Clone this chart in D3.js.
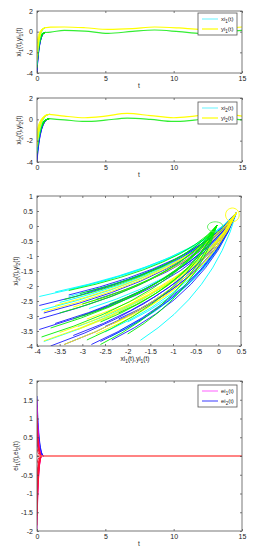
<!DOCTYPE html>
<html>
<head>
<meta charset="utf-8">
<script src="https://cdn.jsdelivr.net/npm/d3@7"></script>
<style>
  body { margin: 0; background: #fff; }
  text { font-family: "Liberation Sans", Arial, sans-serif; fill: #222; }
</style>
</head>
<body>
<div id="chart"></div>
<script>
// ---- data ----
const timeTicks = [0, 5, 10, 15];
const stateTicks = [-4, -2, 0, 2];

// panel 1: steady curves after the transient
const steadyT1 = [0.6, 1, 2, 3.5, 5.2, 7, 8.6, 10.4, 12, 13.5, 15];
const green1 = [-0.08, -0.04, 0.13, 0.05, -0.17, 0.03, 0.16, 0, -0.17, 0, 0.13];
const yellow1 = [0.38, 0.43, 0.45, 0.38, 0.22, 0.3, 0.45, 0.36, 0.22, 0.3, 0.45];
// panel 1: starting values of the transients at t = 0
const blueStart1 = [-4, -3.9, -3.7, -3.4];
const greenStart1 = [-3.5, -3.0, -2.6, -2.2, -1.8, -1.4];
const cyanStart1 = [-3.2, -2.5, -1.8];
const yellowStart1 = [-2.8, -2.2, -1.6, -1.0];

// panel 2
const steadyT2 = [0.9, 2, 3.5, 5, 6.6, 8.3, 10, 11.5, 13.2, 15];
const green2 = [0.06, -0.05, -0.2, -0.08, 0.12, 0, -0.2, -0.08, 0.12, -0.05];
const yellow2 = [0.47, 0.3, 0.15, 0.3, 0.55, 0.35, 0.15, 0.3, 0.55, 0.3];
const blueStart2 = [-4, -3.8, -3.5, -3.1];
const greenStart2 = [-3.2, -2.8, -2.4, -2.0, -1.7];
const cyanStart2 = [-3.0, -2.3, -1.6];
const yellowStart2 = [-2.6, -2.0, -1.5, -1.1];

// panel 3: phase plane, starting points [x, y]
const phaseXTicks = [-4, -3.5, -3, -2.5, -2, -1.5, -1, -0.5, 0, 0.5];
const phaseYTicks = [-4, -3.5, -3, -2.5, -2, -1.5, -1, -0.5, 0, 0.5, 1];
const cyanPhase = [[-3.95, -2.35], [-3.6, -2.2], [-3.25, -2.1], [-3.5, -2.55], [-3.85, -3.85],
  [-2.5, -3.53], [-2.39, -3.7], [-2.17, -3.48], [-1.72, -3.81], [-3.1, -3.35], [-2.85, -2.75],
  [-3.9, -2.8], [-3.3, -2.35], [-2.0, -3.2]];
const bluePhase = [[-3.95, -2.65], [-3.95, -3.1], [-3.95, -3.45], [-3.7, -4.0], [-3.4, -3.95],
  [-2.8, -3.95], [-2.6, -3.85], [-2.35, -3.8], [-3.3, -2.3], [-3.0, -3.0], [-2.7, -2.45],
  [-3.6, -3.25], [-2.2, -3.1], [-3.2, -3.65], [-3.85, -2.9], [-2.9, -2.2], [-2.5, -3.35]];
const greenPhase = [[-3.3, -2.15], [-3.9, -3.7], [-3.5, -2.9], [-3.0, -2.6],
  [-2.6, -3.2], [-2.9, -3.8], [-3.2, -3.1], [-2.4, -2.6], [-3.7, -3.4], [-2.0, -3.6],
  [-2.6, -3.95], [-3.05, -2.25], [-3.4, -2.45], [-2.2, -2.9]];
const yellowPhase = [[-3.85, -2.85], [-3.85, -3.83], [-3.5, -3.55], [-3.2, -2.7], [-2.9, -3.1],
  [-3.4, -3.95], [-2.7, -3.6], [-2.5, -2.95], [-3.6, -2.65], [-3.1, -3.45], [-2.3, -3.25]];
const upperEnd = [0.4, 0.45];
const lowerEnd = [-0.03, 0.02];
const greenLoop = [[0.1, -0.03], [0.06, 0.09], [-0.07, 0.14], [-0.19, 0.09], [-0.24, -0.03],
  [-0.19, -0.15], [-0.07, -0.2], [0.06, -0.15]];
const yellowLoop = [[0.46, 0.37], [0.42, 0.53], [0.31, 0.6], [0.2, 0.53], [0.16, 0.37],
  [0.2, 0.21], [0.31, 0.14], [0.42, 0.21]];

// panel 4: synchronisation errors at t = 0
const errTicks = [-2, -1.5, -1, -0.5, 0, 0.5, 1, 1.5, 2];
const e1Start = [1.5, 1.3, -1.95, -1.7, -1.45];
const eRedStart = [1.1, 0.8, 0.5, 0.2, -0.2, -0.5, -0.8, -1.1, -1.3, -1.6, 0.95, -0.95, -1.85];
const e2Start = [1.6, 1.35, 1.1, 0.85, 0.6, 0.35];

const C = { blue: '#1a1aff', cyan: '#00ffff', green: '#00ee00', yellow: '#ffff00',
            magenta: '#ff00ff', red: '#ff1030', zero: '#ff5a5a' };

const svg = d3.select('#chart').append('svg')
    .attr('width', 256).attr('height', 550);
svg.append('rect').attr('width', 256).attr('height', 550).attr('fill', '#fff');

let clipId = 0;

function panel(cfg) {
    const x = d3.scaleLinear().domain(cfg.xDomain).range([cfg.left, cfg.right]);
    const y = d3.scaleLinear().domain(cfg.yDomain).range([cfg.bottom, cfg.top]);
    const id = 'clip' + (clipId++);
    svg.append('clipPath').attr('id', id).append('rect')
        .attr('x', cfg.left).attr('y', cfg.top)
        .attr('width', cfg.right - cfg.left).attr('height', cfg.bottom - cfg.top);
    const plot = svg.append('g').attr('clip-path', `url(#${id})`);

    const fmt = d => String(d);
    const axes = svg.append('g').attr('class', 'axes');
    axes.append('g').attr('transform', `translate(0,${cfg.bottom})`)
        .call(d3.axisBottom(x).tickValues(cfg.xTicks).tickSizeInner(-2).tickSizeOuter(0).tickPadding(3).tickFormat(fmt));
    axes.append('g').attr('transform', `translate(${cfg.left},0)`)
        .call(d3.axisLeft(y).tickValues(cfg.yTicks).tickSizeInner(-2).tickSizeOuter(0).tickPadding(4).tickFormat(fmt));
    axes.append('g').attr('transform', `translate(0,${cfg.top})`)
        .call(d3.axisTop(x).tickValues(cfg.xTicks).tickSizeInner(-2).tickSizeOuter(0).tickFormat(''));
    axes.append('g').attr('transform', `translate(${cfg.right},0)`)
        .call(d3.axisRight(y).tickValues(cfg.yTicks).tickSizeInner(-2).tickSizeOuter(0).tickFormat(''));
    axes.selectAll('.domain').remove();
    axes.selectAll('.tick line').attr('stroke', '#444').attr('stroke-width', 0.7);
    axes.selectAll('.tick text').attr('font-size', 7).style('font-family', '"Liberation Sans", Arial, sans-serif').attr('fill', '#222');
    axes.append('rect')
        .attr('x', cfg.left).attr('y', cfg.top)
        .attr('width', cfg.right - cfg.left).attr('height', cfg.bottom - cfg.top)
        .attr('fill', 'none').attr('stroke', '#555').attr('stroke-width', 0.8);

    return { x, y, plot, axes };
}

function subText(sel, parts, size) {
    const t = sel.attr('font-size', size);
    parts.forEach(p => {
        if (p.sub) t.append('tspan').attr('font-size', size * 0.75).attr('dy', 1.5).text(p.s);
        else t.append('tspan').attr('dy', p.after ? -1.5 : 0).text(p.s);
    });
    return t;
}

// parts helper: "xi", sub "1", "(t),yi", sub "1", "(t)"
function label(a, n, b) {
    const parts = [{ s: a }, { s: n, sub: true }, { s: '(t)', after: true }];
    if (b) parts.push({ s: ',' + b }, { s: n, sub: true }, { s: '(t)', after: true });
    return parts;
}

function bend(x, y, p0, c, p1) {
    const p = d3.path();
    p.moveTo(x(p0[0]), y(p0[1]));
    p.quadraticCurveTo(x(c[0]), y(c[1]), x(p1[0]), y(p1[1]));
    return p.toString();
}

function transients(pn, starts, end, color, width) {
    pn.plot.append('g').selectAll('path').data(starts).enter().append('path')
        .attr('d', y0 => bend(pn.x, pn.y, [0, y0], [end[0] / 4, end[1]], end))
        .attr('fill', 'none').attr('stroke', color).attr('stroke-width', width || 1);
}

function steady(pn, ts, vals, color) {
    const line = d3.line().x(d => pn.x(d[0])).y(d => pn.y(d[1])).curve(d3.curveMonotoneX);
    pn.plot.append('path').datum(ts.map((t, i) => [t, vals[i]]))
        .attr('d', line).attr('fill', 'none').attr('stroke', color).attr('stroke-width', 1.2);
}

function legend(top, entries) {
    const g = svg.append('g');
    g.append('rect').attr('x', 198).attr('y', top).attr('width', 39).attr('height', 22)
        .attr('fill', '#fff').attr('stroke', '#555').attr('stroke-width', 0.8);
    entries.forEach((e, i) => {
        const ly = top + 6 + i * 10;
        g.append('line').attr('x1', 202).attr('x2', 218).attr('y1', ly).attr('y2', ly)
            .attr('stroke', e.color).attr('stroke-width', 1.2);
        subText(g.append('text').attr('x', 221).attr('y', ly + 2), label(e.a, e.n), 6);
    });
}

function ylabel(x, cy, parts) {
    subText(svg.append('text').attr('transform', `translate(${x},${cy}) rotate(-90)`)
        .attr('text-anchor', 'middle'), parts, 6.5);
}

function xlabel(cx, yPos, parts) {
    subText(svg.append('text').attr('x', cx).attr('y', yPos).attr('text-anchor', 'middle'), parts, 6.5);
}

function timePanel(top, bottom, steadyT, green, yellow, starts, n) {
    const pn = panel({ left: 37, right: 242, top, bottom, xDomain: [0, 15], yDomain: [-4, 2],
                       xTicks: timeTicks, yTicks: stateTicks });
    const gEnd = [steadyT[0], green[0]];
    const yEnd = [steadyT[0], yellow[0]];
    transients(pn, starts.blue, gEnd, C.blue);
    transients(pn, starts.green, gEnd, C.green);
    transients(pn, starts.cyan, yEnd, C.cyan);
    transients(pn, starts.yellow, yEnd, C.yellow);
    steady(pn, steadyT, green, '#33ee33');
    steady(pn, steadyT, yellow, C.yellow);
    xlabel(139, bottom + 15, [{ s: 't' }]);
    ylabel(21, (top + bottom) / 2, label('xi', n, 'yi'));
    return pn;
}

// panel 1
timePanel(11, 73, steadyT1, green1, yellow1,
    { blue: blueStart1, green: greenStart1, cyan: cyanStart1, yellow: yellowStart1 }, '1');
legend(13, [{ color: '#7ff5ff', a: 'xi', n: '1' }, { color: C.yellow, a: 'yi', n: '1' }]);

// panel 2
timePanel(98, 162, steadyT2, green2, yellow2,
    { blue: blueStart2, green: greenStart2, cyan: cyanStart2, yellow: yellowStart2 }, '2');
legend(102, [{ color: '#7ff5ff', a: 'xi', n: '2' }, { color: C.yellow, a: 'yi', n: '2' }]);

// panel 3: phase plane
const p3 = panel({ left: 37, right: 241, top: 196, bottom: 346, xDomain: [-4, 0.5], yDomain: [-4, 1],
                   xTicks: phaseXTicks, yTicks: phaseYTicks });
function phaseLines(starts, end, color) {
    // control point placed about 3/4 of the way along x and 3/8 along y
    p3.plot.append('g').selectAll('path').data(starts).enter().append('path')
        .attr('d', s => bend(p3.x, p3.y, s,
            [s[0] + 0.77 * (end[0] - s[0]), s[1] + 0.375 * (end[1] - s[1])], end))
        .attr('fill', 'none').attr('stroke', color).attr('stroke-width', 0.9);
}
phaseLines(cyanPhase, upperEnd, C.cyan);
phaseLines(bluePhase, upperEnd, C.blue);
phaseLines(yellowPhase, upperEnd, C.yellow);
phaseLines(greenPhase, lowerEnd, C.green);
const loopLine = d3.line().x(d => p3.x(d[0])).y(d => p3.y(d[1])).curve(d3.curveCardinalClosed);
p3.plot.append('path').datum(greenLoop).attr('d', loopLine)
    .attr('fill', 'none').attr('stroke', '#55ee55').attr('stroke-width', 0.9);
p3.plot.append('path').datum(yellowLoop).attr('d', loopLine)
    .attr('fill', 'none').attr('stroke', C.yellow).attr('stroke-width', 0.9);
xlabel(135, 361, label('xi', '1', 'yi'));
ylabel(18, 271, label('xi', '2', 'yi'));

// panel 4: errors
const p4 = panel({ left: 37, right: 242, top: 381, bottom: 531, xDomain: [0, 15], yDomain: [-2, 2],
                   xTicks: timeTicks, yTicks: errTicks });
function decay(starts, T, color) {
    p4.plot.append('g').selectAll('path').data(starts).enter().append('path')
        .attr('d', e0 => bend(p4.x, p4.y, [0, e0], [T / 4, 0], [T, 0]))
        .attr('fill', 'none').attr('stroke', color).attr('stroke-width', 0.9);
}
decay(e2Start, 0.5, C.blue);
decay(e1Start, 0.35, C.magenta);
decay(eRedStart, 0.35, C.red);
p4.plot.append('path').datum([[0, 0], [15, 0]])
    .attr('d', d3.line().x(d => p4.x(d[0])).y(d => p4.y(d[1])))
    .attr('stroke', C.zero).attr('stroke-width', 1.3);
legend(385, [{ color: '#ff7aff', a: 'ei', n: '1' }, { color: '#5a5aff', a: 'ei', n: '2' }]);
xlabel(139, 546, [{ s: 't' }]);
ylabel(18, 456, [{ s: 'ei' }, { s: '1', sub: true }, { s: '(t),ei', after: true }, { s: '2', sub: true }, { s: '(t)', after: true }]);
</script>
</body>
</html>
